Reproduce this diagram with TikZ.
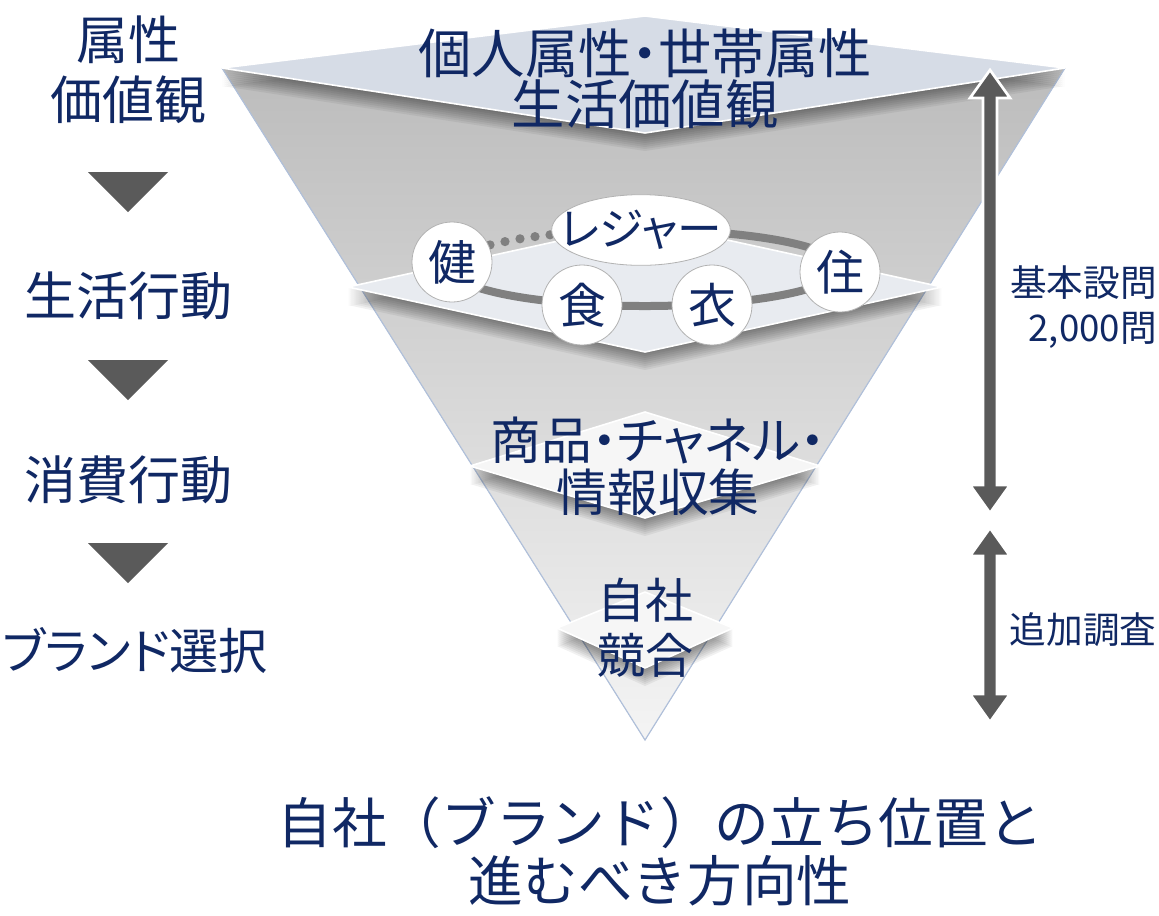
\documentclass[tikz,border=0pt]{standalone}
\usepackage{fontspec}
\setmainfont{Noto Sans CJK JP}[RawFeature=+palt]
\newfontfamily\jpfull{Noto Sans CJK JP}
\usetikzlibrary{fadings,shapes.geometric}
\definecolor{navy}{RGB}{16,40,100}
\definecolor{conetop}{RGB}{188,188,188}
\definecolor{conebot}{RGB}{244,244,244}
\definecolor{coneedge}{RGB}{176,192,218}
\definecolor{topface}{RGB}{214,220,230}
\definecolor{facetwo}{RGB}{232,235,240}
\definecolor{facethree}{RGB}{246,246,246}
\definecolor{arrowgray}{RGB}{90,90,90}
\definecolor{ringgray}{RGB}{128,128,128}
\tikzfading[name=bandfade, left color=transparent!100, middle color=transparent!10, right color=transparent!100]
\newcommand\shadowedlayer[2]{%
  \foreach \k in {2,4,...,18}{\fill[black, opacity=0.055, yshift={-0.75pt*\k}] #1;}%
  \path[fill=#2, draw=white, line width=1.2pt, line join=round] #1;%
}
\begin{document}
\begin{tikzpicture}[x=0.75pt,y=-0.75pt,
  lbl/.style={text=navy, align=center, inner sep=0pt},
  badge/.style={circle, draw=gray!60, line width=0.6pt, fill=white, minimum size=60pt, inner sep=0pt, text=navy, font=\fontsize{36}{40}\selectfont},
  dblarrow/.style={fill=arrowgray, draw=white, line width=2pt, line join=miter},
  tri/.style={fill=arrowgray},
  ringdot/.style={fill=ringgray}]
\useasboundingbox (0,0) rectangle (1159,915);

% cone
\coordinate (TL) at (222,68);
\coordinate (TR) at (1065,68);
\coordinate (AP) at (645,740);
\fill[top color=conetop, bottom color=conebot] (TL) -- (TR) -- (AP) -- cycle;
\begin{scope}
  \clip (TL) -- (TR) -- (AP) -- cycle;
  \fill[white, path fading=bandfade] (632,120) rectangle (658,745);
\end{scope}
\draw[coneedge, line width=0.9pt] (TL) -- (AP) -- (TR);

% layers
\shadowedlayer{(222,68) -- (645,16) -- (1065,68) -- (645,133) -- cycle}{topface}
\shadowedlayer{(348,287) -- (645,222) -- (942,287) -- (645,352) -- cycle}{facetwo}
\shadowedlayer{(470,466) -- (645,412) -- (820,466) -- (645,518) -- cycle}{facethree}
\shadowedlayer{(557,628) -- (645,592) -- (733,628) -- (645,668) -- cycle}{facethree}

% ring
\draw[ringgray, line width=6pt] (645,268) ++(295:195 and 38) arc[start angle=295, end angle=540, x radius=195, y radius=38];
\foreach \dx/\dy in {490/244.9, 505/241.6, 520/238.8, 535/236.6, 550/234.8}
  \fill[ringdot] (\dx,\dy) circle[radius=4.6];

\node[badge] (ken) at (452,262) {健};
\node[badge] (shoku) at (582,305) {食};
\node[badge] (koromo) at (712,305) {衣};
\node[badge] (ju) at (840,272) {住};
\node[ellipse, draw=gray!60, line width=0.6pt, fill=white, minimum width=134pt, minimum height=53pt, inner sep=0pt] (leisure) at (641,230) {};
\node[lbl, font=\fontsize{33.5}{38}\selectfont] (leisuretxt) at (leisure.center) {レジャー};

% cone texts
\node[lbl, font=\fontsize{40}{38}\selectfont] (title) at (645,79) {個人属性・世帯属性\\生活価値観};
\node[lbl, font=\fontsize{38}{39}\selectfont] (chan) at (658,466) {商品・チャネル・\\情報収集};
\node[lbl, font=\fontsize{36}{41}\selectfont] (own) at (645,628) {自社\\競合};

% left column
\node[lbl, font=\fontsize{39}{45}\selectfont] (attr) at (128,70) {属性\\価値観};
\fill[tri] (88,172) -- (168,172) -- (128,212) -- cycle;
\node[lbl, font=\fontsize{39}{45}\selectfont] (life) at (128,296) {生活行動};
\fill[tri] (88,360) -- (168,360) -- (128,400) -- cycle;
\node[lbl, font=\fontsize{39}{45}\selectfont] (cons) at (128,480) {消費行動};
\fill[tri] (88,543) -- (168,543) -- (128,583) -- cycle;
\node[lbl, font=\fontsize{36.8}{45}\selectfont] (brand) at (135,650) {ブランド選択};

% right arrows
\path[dblarrow] (990,70) -- (1010,98) -- (997,98) -- (997,485) -- (1010,485) -- (990,513) -- (970,485) -- (983,485) -- (983,98) -- (970,98) -- cycle;
\path[dblarrow] (990,528) -- (1010,556) -- (997,556) -- (997,694) -- (1010,694) -- (990,722) -- (970,694) -- (983,694) -- (983,556) -- (970,556) -- cycle;
\node[lbl, align=right, anchor=east, font=\fontsize{27.5}{34}\selectfont] (basic) at (1157,307) {基本設問\\2,000問};
\node[lbl, font=\fontsize{27.5}{34}\selectfont] (extra) at (1083,630) {追加調査};

% bottom
\node[lbl, font=\jpfull\fontsize{41}{43.5}\selectfont] (concl) at (660,851) {自社（ブランド）の立ち位置と\\進むべき方向性};
\end{tikzpicture}
\end{document}
